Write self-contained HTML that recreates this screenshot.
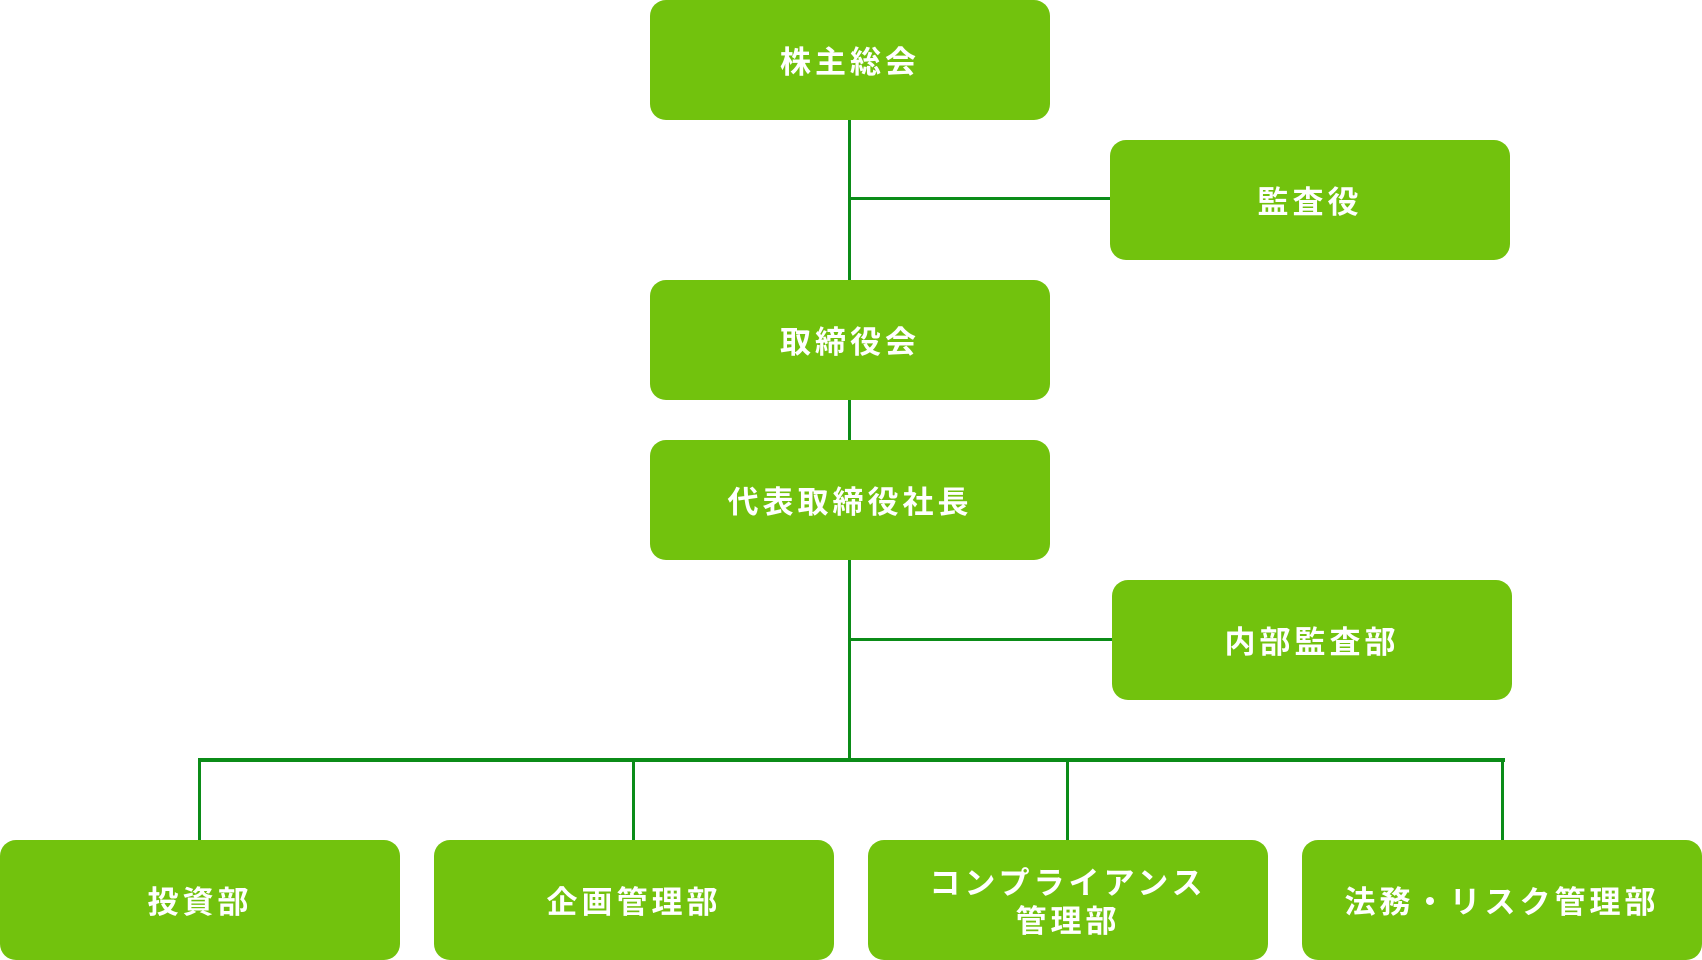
<!DOCTYPE html>
<html><head><meta charset="utf-8"><style>
html,body{margin:0;padding:0;background:#fff;}
body{width:1702px;height:960px;position:relative;overflow:hidden;font-family:"Liberation Sans","Noto Sans CJK JP",sans-serif;}
.b{position:absolute;background:#72c20d;border-radius:16px;color:#fff;font-weight:bold;font-size:31px;letter-spacing:4px;display:flex;align-items:center;justify-content:center;text-align:center;line-height:38px;padding-top:5px;box-sizing:border-box;}
.l{position:absolute;background:#0b8c18;}
</style></head><body>
<div class="l" style="left:848px;top:119px;width:3px;height:162px"></div>
<div class="l" style="left:848px;top:197px;width:264px;height:3px"></div>
<div class="l" style="left:848px;top:398px;width:3px;height:43px"></div>
<div class="l" style="left:848px;top:559px;width:3px;height:201px"></div>
<div class="l" style="left:848px;top:638px;width:266px;height:3px"></div>
<div class="l" style="left:198px;top:758px;width:1307px;height:4px"></div>
<div class="l" style="left:198px;top:758px;width:3px;height:83px"></div>
<div class="l" style="left:632px;top:758px;width:3px;height:83px"></div>
<div class="l" style="left:1066px;top:758px;width:3px;height:83px"></div>
<div class="l" style="left:1501px;top:758px;width:3px;height:83px"></div>

<div class="b" style="left:650px;top:0;width:400px;height:120px">株主総会</div>
<div class="b" style="left:1110px;top:140px;width:400px;height:120px">監査役</div>
<div class="b" style="left:650px;top:280px;width:400px;height:120px">取締役会</div>
<div class="b" style="left:650px;top:440px;width:400px;height:120px">代表取締役社長</div>
<div class="b" style="left:1112px;top:580px;width:400px;height:120px">内部監査部</div>
<div class="b" style="left:0;top:840px;width:400px;height:120px">投資部</div>
<div class="b" style="left:434px;top:840px;width:400px;height:120px">企画管理部</div>
<div class="b" style="left:868px;top:840px;width:400px;height:120px">コンプライアンス<br>管理部</div>
<div class="b" style="left:1302px;top:840px;width:400px;height:120px">法務・リスク管理部</div>
</body></html>
